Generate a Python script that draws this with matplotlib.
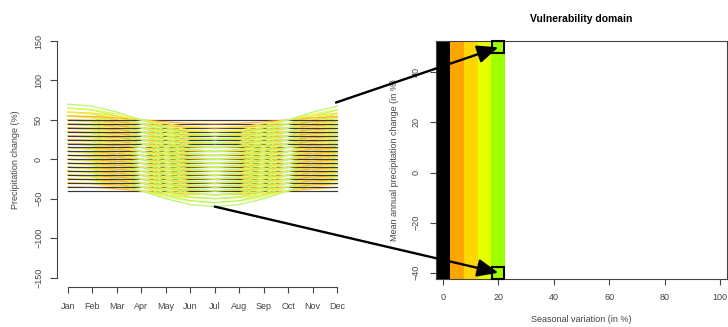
import matplotlib
matplotlib.use("Agg")
import matplotlib.pyplot as plt
from matplotlib.colors import ListedColormap
from matplotlib.patches import ConnectionPatch
import numpy as np

plt.rcParams['font.family'] = ['Liberation Sans', 'DejaVu Sans']

# monthly axis
months = ["Jan", "Feb", "Mar", "Apr", "May", "Jun",
          "Jul", "Aug", "Sep", "Oct", "Nov", "Dec"]
# seasonal shape (fraction of amplitude, Jan..Dec)
season = [1.0, 0.87, 0.5, 0.0, -0.5, -0.87, -1.0, -0.87, -0.5, 0.0, 0.5, 0.87]
# mean annual change levels (%) and seasonal amplitudes (%)
levels = [-40, -35, -30, -25, -20, -15, -10, -5, 0, 5, 10, 15, 20, 25, 30, 35, 40, 45, 50]
amps = [0, 5, 10, 15, 20]
amp_colors = ["#000000", "#FFA500", "#FFD700", "#E6FF00", "#9EFF00"]
line_colors = ["#3a3a3a", "#FFB030", "#FFE040", "#E8FF40", "#B4F570"]
# highlighted scenarios on the vulnerability domain
marked_x = [20, 20]
marked_y = [50, -40]
# grid of the domain (seasonal variation axis)
domain_x = [0, 5, 10, 15, 20, 25, 30, 35, 40, 45, 50, 55, 60, 65, 70, 75, 80, 85, 90, 95, 100]

axcol = "#444444"
fs = 6.5

fig = plt.figure(figsize=(7.28, 3.27), dpi=100)

# ---- left panel: precipitation change scenarios
ax1 = fig.add_axes([57 / 728, 1 - 287 / 327, 291 / 728, 255.4 / 327])
mx = np.arange(1, 13)
for lev in levels:
    for a, c in zip(amps, line_colors):
        ax1.plot(mx, [lev + a * s for s in season], color=c, lw=0.85)
ax1.set_xlim(0.56, 12.44)
ax1.set_ylim(-162, 162)
ax1.set_xticks(mx)
ax1.set_xticklabels(months)
ax1.set_yticks([-150, -100, -50, 0, 50, 100, 150])
for s in ["top", "right"]:
    ax1.spines[s].set_visible(False)
ax1.spines["left"].set_bounds(-150, 150)
ax1.spines["bottom"].set_bounds(1, 12)
for s in ["left", "bottom"]:
    ax1.spines[s].set_color(axcol)
    ax1.spines[s].set_linewidth(0.8)
ax1.tick_params(axis="x", length=4, pad=7, labelsize=fs, colors=axcol, width=0.8)
ax1.tick_params(axis="y", length=5, pad=5, labelsize=fs, colors=axcol, width=0.8)
plt.setp(ax1.get_yticklabels(), rotation=90, va="center")
ax1.set_ylabel("Precipitation change (%)", fontsize=fs, color=axcol)
ax1.yaxis.set_label_coords(-0.128, 0.5)

# ---- right panel: vulnerability domain
ax2 = fig.add_axes([436 / 728, 1 - 279 / 327, 291 / 728, 238 / 327])
xe = np.array(domain_x + [105]) - 2.5
ye = np.array(levels + [55]) - 2.5
grid = np.full((len(levels), len(domain_x)), np.nan)
for i, a in enumerate(amps):
    grid[:, domain_x.index(a)] = i
ax2.pcolormesh(xe, ye, grid, cmap=ListedColormap(amp_colors), vmin=-0.5, vmax=4.5)
ax2.plot(marked_x, marked_y, ls="none", marker="s", ms=8.5, mfc="none",
         mec="black", mew=1.5, zorder=5, clip_on=False)
ax2.set_xlim(-2.5, 102.5)
ax2.set_ylim(-42.5, 52.5)
ax2.set_xticks([0, 20, 40, 60, 80, 100])
ax2.set_yticks([-40, -20, 0, 20, 40])
for s in ax2.spines.values():
    s.set_color(axcol)
    s.set_linewidth(0.8)
ax2.tick_params(axis="x", length=4, pad=6, labelsize=fs, colors=axcol, width=0.8)
ax2.tick_params(axis="y", length=4, pad=7, labelsize=fs, colors=axcol, width=0.8)
plt.setp(ax2.get_yticklabels(), rotation=90, va="center")
ax2.set_xlabel("Seasonal variation (in %)", fontsize=fs, color=axcol)
ax2.xaxis.set_label_coords(0.5, -0.15)
ax2.set_ylabel("Mean annual precipitation change (in %)", fontsize=fs, color=axcol)
ax2.yaxis.set_label_coords(-0.128, 0.5)
ax2.set_title("Vulnerability domain", fontsize=7.5, fontweight="bold", pad=14)

# ---- arrows linking the extreme curves to the domain
for (xa, ya), (xb, yb) in [((11.95, 72), (20, 50)), ((7.0, -60), (20, -40))]:
    con = ConnectionPatch(xyA=(xa, ya), coordsA=ax1.transData,
                          xyB=(xb, yb), coordsB=ax2.transData,
                          arrowstyle="-|>,head_length=0.75,head_width=0.32",
                          mutation_scale=17, lw=1.7, color="black", zorder=10)
    fig.add_artist(con)

fig.savefig("out.png", dpi=100)
